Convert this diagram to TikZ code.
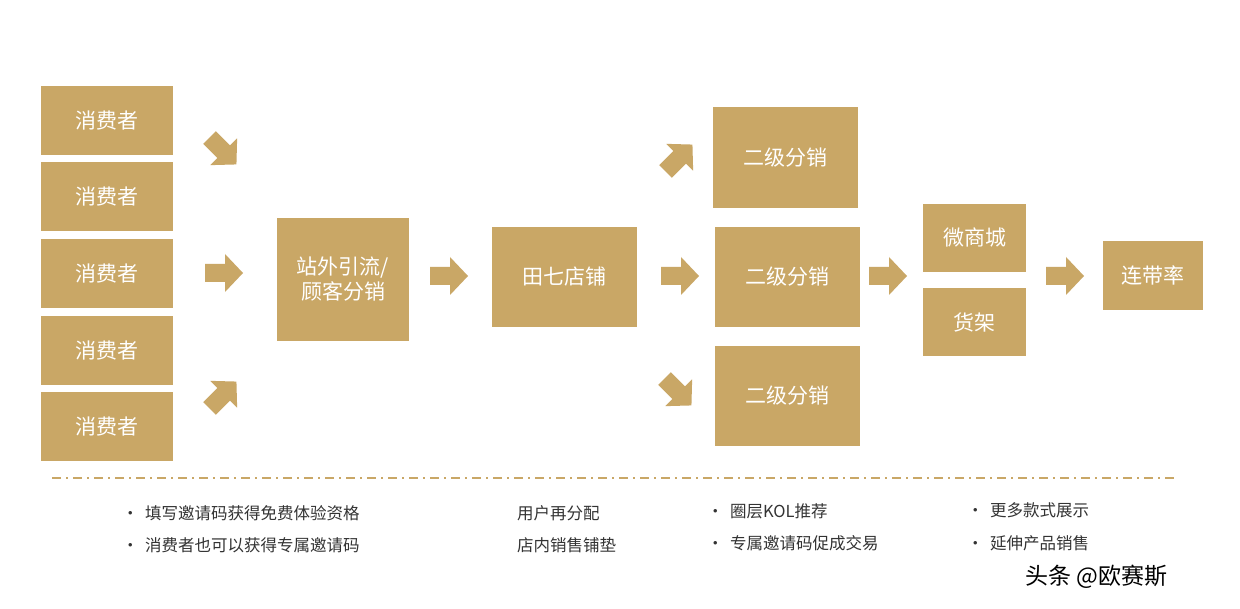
\documentclass[tikz,border=0pt]{standalone}
\usepackage{fontspec}
\setmainfont{Noto Sans CJK SC}
\begin{document}
\begin{tikzpicture}[x=1pt,y=-1pt,
  gbox/.style={fill=gold,text=white,font=\fontsize{21}{25}\selectfont,align=center,inner sep=0pt},
  note/.style={anchor=west,text=txt,font=\fontsize{16.5}{20}\selectfont,inner sep=0pt}]
\definecolor{gold}{HTML}{C9A766}
\definecolor{txt}{HTML}{333333}
\useasboundingbox[fill=white] (0,0) rectangle (1240,609);
\newcommand{\boxat}[6]{\node[gbox,minimum width=#3-#1,minimum height=#4-#2] (#5) at ({(#1+#3)/2},{(#2+#4)/2}) {#6};}
\newcommand{\barr}[3]{\begin{scope}[shift={(#1,#2)},rotate=#3]
 \fill[gold] (-19,-9) -- (1,-9) -- (1,-19) -- (19,0) -- (1,19) -- (1,9) -- (-19,9) -- cycle;\end{scope}}
\boxat{41}{86}{173}{155}{c1}{消费者}
\boxat{41}{162}{173}{231}{c2}{消费者}
\boxat{41}{239}{173}{308}{c3}{消费者}
\boxat{41}{316}{173}{385}{c4}{消费者}
\boxat{41}{392}{173}{461}{c5}{消费者}
\boxat{277}{218}{409}{341}{zw}{站外引流/\\顾客分销}
\boxat{492}{227}{637}{327}{tq}{田七店铺}
\boxat{713}{107}{858}{208}{e1}{二级分销}
\boxat{715}{227}{860}{327}{e2}{二级分销}
\boxat{715}{346}{860}{446}{e3}{二级分销}
\boxat{923}{204}{1026}{272}{ws}{微商城}
\boxat{923}{288}{1026}{356}{hj}{货架}
\boxat{1103}{241}{1203}{310}{ld}{连带率}
\barr{223}{151}{-45}
\barr{224}{273}{0}
\barr{223}{395}{45}
\barr{449}{276}{0}
\barr{679}{158}{45}
\barr{680}{276}{0}
\barr{678}{392}{-45}
\barr{888}{276}{0}
\barr{1065}{276}{0}
\coordinate (dl) at (52,478); \coordinate (dr) at (1175,478);
\draw[gold,line width=2.5pt,dash pattern=on 9pt off 5pt on 2pt off 5pt] (dl) -- (dr);
\node[note] (n1) at (122,513) {•\, 填写邀请码获得免费体验资格};
\node[note] (n2) at (122,545) {•\, 消费者也可以获得专属邀请码};
\node[note] (n3) at (517,513) {用户再分配};
\node[note] (n4) at (517,545) {店内销售铺垫};
\node[note] (n5) at (707,511) {•\, 圈层KOL推荐};
\node[note] (n6) at (707,543) {•\, 专属邀请码促成交易};
\node[note] (n7) at (967,510) {•\, 更多款式展示};
\node[note] (n8) at (967,543) {•\, 延伸产品销售};
\node[anchor=west,text=black,font=\fontsize{23}{27}\selectfont,inner sep=0pt] (wm) at (1025,577) {头条 @欧赛斯};
\end{tikzpicture}
\end{document}
